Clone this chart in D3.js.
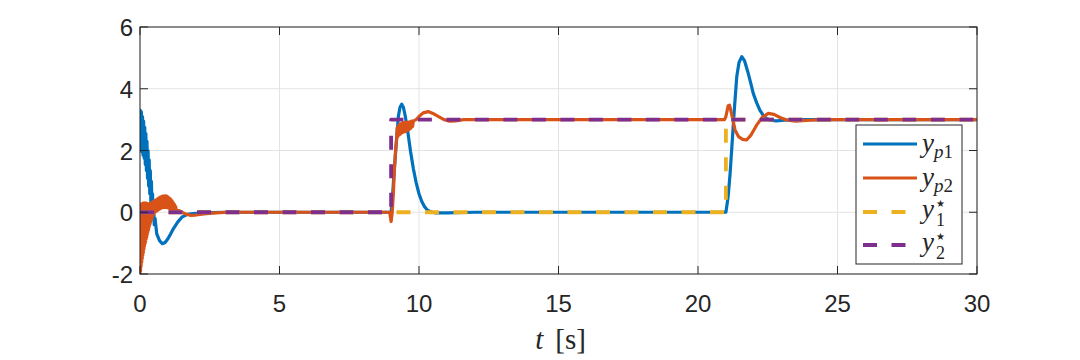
<!DOCTYPE html>
<html>
<head>
<meta charset="utf-8">
<script src="https://cdn.jsdelivr.net/npm/d3@7"></script>
<style>
  body { margin: 0; background: #fff; }
</style>
</head>
<body>
<div id="chart"></div>
<script>
// axis ticks
const xTicks = [0, 5, 10, 15, 20, 25, 30];
const yTicks = [-2, 0, 2, 4, 6];

// y_p1 (measured output 1), [t, value]
const yp1 = [
  [0, 2.0], [0.01, 3.3], [0.03, 2.0], [0.05, 3.25], [0.07, 1.95], [0.09, 3.1],
  [0.11, 1.85], [0.13, 2.95], [0.15, 1.75], [0.17, 2.75], [0.19, 1.55], [0.21, 2.55],
  [0.23, 1.35], [0.25, 2.3], [0.27, 1.1], [0.29, 2.0], [0.31, 0.85], [0.33, 1.7],
  [0.35, 0.6], [0.37, 1.35], [0.39, 0.3], [0.41, 1.0], [0.43, 0.05], [0.45, 0.6],
  [0.47, -0.2], [0.49, 0.25], [0.51, -0.4], [0.54, -0.2],
  [0.6, -0.7], [0.7, -0.92], [0.8, -1.02], [0.9, -0.98], [1.0, -0.86], [1.1, -0.7],
  [1.2, -0.53], [1.35, -0.32], [1.5, -0.16], [1.7, -0.07], [1.9, -0.04], [2.2, -0.03],
  [2.6, -0.01], [3, 0], [9.0, 0],
  [9.05, 0.5], [9.1, 1.2], [9.15, 1.8], [9.2, 2.4], [9.26, 3.1], [9.32, 3.4],
  [9.38, 3.5], [9.44, 3.4], [9.5, 3.15], [9.6, 2.6], [9.7, 1.95], [9.8, 1.4],
  [9.9, 0.95], [10.0, 0.6], [10.1, 0.35], [10.2, 0.18], [10.3, 0.07], [10.45, 0.01],
  [10.6, -0.02], [11, -0.02], [12, 0], [21.0, 0],
  [21.08, 0.5], [21.15, 1.25], [21.22, 2.2], [21.3, 3.3], [21.39, 4.4], [21.47, 4.85],
  [21.57, 5.04], [21.67, 4.9], [21.8, 4.5], [21.9, 4.15], [21.98, 3.85], [22.1, 3.55],
  [22.22, 3.3], [22.34, 3.14], [22.46, 3.04], [22.6, 2.98], [22.8, 2.96], [23.1, 2.98],
  [23.5, 3], [30, 3]
];

// y_p2 (measured output 2), [t, value]
const yp2 = [
  [0, -2.05], [0.01, 0.25], [0.02, -1.9], [0.03, 0.26], [0.04, -1.75], [0.05, 0.27],
  [0.06, -1.62], [0.07, 0.28], [0.08, -1.5], [0.09, 0.29], [0.10, -1.4], [0.11, 0.3],
  [0.12, -1.3], [0.13, 0.3], [0.14, -1.2], [0.15, 0.3], [0.16, -1.1], [0.17, 0.3],
  [0.18, -1.02], [0.19, 0.3], [0.20, -0.95], [0.21, 0.3], [0.22, -0.87], [0.23, 0.3],
  [0.24, -0.8], [0.25, 0.29], [0.26, -0.72], [0.27, 0.28], [0.28, -0.65], [0.29, 0.27],
  [0.30, -0.58], [0.31, 0.27], [0.32, -0.5], [0.33, 0.28], [0.34, -0.44], [0.35, 0.28],
  [0.36, -0.38], [0.37, 0.29], [0.38, -0.32], [0.39, 0.3], [0.40, -0.27], [0.41, 0.31],
  [0.42, -0.22], [0.43, 0.32], [0.44, -0.17], [0.45, 0.33], [0.46, -0.12], [0.47, 0.34],
  [0.48, -0.08], [0.49, 0.35], [0.50, -0.04], [0.52, 0.37], [0.54, 0.0], [0.56, 0.39],
  [0.58, 0.03], [0.6, 0.42], [0.62, 0.05], [0.64, 0.44], [0.66, 0.08], [0.68, 0.47],
  [0.7, 0.1], [0.72, 0.49], [0.74, 0.12], [0.76, 0.5], [0.78, 0.14], [0.8, 0.52],
  [0.82, 0.15], [0.84, 0.52], [0.86, 0.16], [0.88, 0.53], [0.9, 0.16], [0.92, 0.53],
  [0.94, 0.16], [0.96, 0.52], [0.98, 0.15], [1.0, 0.5], [1.02, 0.14], [1.04, 0.47],
  [1.06, 0.12], [1.08, 0.44], [1.1, 0.1], [1.12, 0.4], [1.14, 0.08], [1.16, 0.35],
  [1.18, 0.07], [1.2, 0.3], [1.22, 0.06], [1.24, 0.25], [1.26, 0.05], [1.28, 0.18],
  [1.3, 0.06], [1.4, 0.05], [1.5, 0.0], [1.65, -0.06], [1.8, -0.1], [2.0, -0.09],
  [2.3, -0.05], [2.7, -0.02], [3.2, 0], [8.95, 0],
  [9.0, -0.3], [9.04, 0.0], [9.08, 0.6], [9.12, 1.4], [9.16, 2.0], [9.2, 2.4],
  [9.22, 2.75], [9.24, 2.45], [9.26, 2.8], [9.28, 2.5], [9.3, 2.85], [9.32, 2.52],
  [9.34, 2.86], [9.36, 2.55], [9.38, 2.88], [9.40, 2.58], [9.42, 2.9], [9.44, 2.6],
  [9.46, 2.9], [9.48, 2.6], [9.5, 2.9], [9.53, 2.62], [9.56, 2.92], [9.59, 2.65],
  [9.62, 2.92], [9.65, 2.68], [9.68, 2.93], [9.71, 2.72], [9.74, 2.95], [9.77, 2.78],
  [9.8, 2.96], [9.9, 3.0], [10.0, 3.1], [10.15, 3.22], [10.33, 3.26],
  [10.5, 3.2], [10.7, 3.1], [10.9, 3.0], [11.1, 2.95], [11.3, 2.96], [11.6, 3.0],
  [20.95, 3],
  [21.0, 3.1], [21.08, 3.45], [21.13, 3.47], [21.2, 3.2], [21.33, 2.66], [21.45, 2.45],
  [21.6, 2.36], [21.74, 2.34], [21.9, 2.5], [22.1, 2.82], [22.3, 3.07], [22.52, 3.2],
  [22.72, 3.17], [22.94, 3.07], [23.2, 2.98], [23.5, 2.95], [24, 2.98], [24.5, 3],
  [30, 3]
];

// references y1*, y2*
const y1ref = [[0, 0], [21, 0], [21, 3], [30, 3]];
const y2ref = [[0, 0], [9, 0], [9, 3], [30, 3]];

const width = 1080, height = 360;
const margin = { left: 140, right: 103, top: 27, bottom: 86 };
const ink = '#262626';
const serif = '"Liberation Serif", "DejaVu Serif", serif';
const sans = '"Liberation Sans", Arial, Helvetica, sans-serif';

const x = d3.scaleLinear().domain([0, 30]).range([margin.left, width - margin.right]);
const y = d3.scaleLinear().domain([-2, 6]).range([height - margin.bottom, margin.top]);

const svg = d3.select('#chart')
  .append('svg')
  .attr('width', width)
  .attr('height', height);

svg.append('defs').append('clipPath')
  .attr('id', 'clip')
  .append('rect')
  .attr('x', x(0)).attr('y', y(6))
  .attr('width', x(30) - x(0)).attr('height', y(-2) - y(6));

// grid
svg.append('g')
  .selectAll('line')
  .data(xTicks)
  .enter().append('line')
  .attr('x1', d => x(d)).attr('x2', d => x(d))
  .attr('y1', y(6)).attr('y2', y(-2))
  .attr('stroke', '#e3e3e3').attr('stroke-width', 1);

svg.append('g')
  .selectAll('line')
  .data(yTicks)
  .enter().append('line')
  .attr('x1', x(0)).attr('x2', x(30))
  .attr('y1', d => y(d)).attr('y2', d => y(d))
  .attr('stroke', '#e3e3e3').attr('stroke-width', 1);

// lines
const line = d3.line().x(d => x(d[0])).y(d => y(d[1]));
const plot = svg.append('g').attr('clip-path', 'url(#clip)');

const series = [
  { data: yp1, color: '#0072BD', dash: null, w: 3.2 },
  { data: yp2, color: '#D95319', dash: null, w: 3.2 },
  { data: y1ref, color: '#EDB120', dash: '14,14.5', w: 3.8 },
  { data: y2ref, color: '#7E2F8E', dash: '14,14.5', w: 3.8 }
];

series.forEach(s => {
  plot.append('path')
    .datum(s.data)
    .attr('d', line)
    .attr('fill', 'none')
    .attr('stroke', s.color)
    .attr('stroke-width', s.w)
    .attr('stroke-linejoin', 'round')
    .attr('stroke-dasharray', s.dash);
});

// axes (MATLAB style, ticks inside, box on)
const tickLen = 8;
const axisG = svg.append('g').attr('stroke', ink).attr('stroke-width', 1).attr('fill', 'none');
axisG.append('rect')
  .attr('x', x(0)).attr('y', y(6))
  .attr('width', x(30) - x(0)).attr('height', y(-2) - y(6));

xTicks.forEach(t => {
  axisG.append('line').attr('x1', x(t)).attr('x2', x(t)).attr('y1', y(-2)).attr('y2', y(-2) - tickLen);
  axisG.append('line').attr('x1', x(t)).attr('x2', x(t)).attr('y1', y(6)).attr('y2', y(6) + tickLen);
});
yTicks.forEach(t => {
  axisG.append('line').attr('x1', x(0)).attr('x2', x(0) + tickLen).attr('y1', y(t)).attr('y2', y(t));
  axisG.append('line').attr('x1', x(30)).attr('x2', x(30) - tickLen).attr('y1', y(t)).attr('y2', y(t));
});

svg.append('g')
  .selectAll('text')
  .data(xTicks)
  .enter().append('text')
  .attr('x', d => x(d))
  .attr('y', y(-2) + 38)
  .attr('text-anchor', 'middle')
  .style('font-family', sans)
  .style('font-size', '24px')
  .attr('fill', ink)
  .text(d => d);

svg.append('g')
  .selectAll('text')
  .data(yTicks)
  .enter().append('text')
  .attr('x', x(0) - 7)
  .attr('y', d => y(d) + 9)
  .attr('text-anchor', 'end')
  .style('font-family', sans)
  .style('font-size', '24px')
  .attr('fill', ink)
  .text(d => d);

// x label
const xl = svg.append('text')
  .attr('x', (x(0) + x(30)) / 2 + 2)
  .attr('y', 349)
  .attr('text-anchor', 'middle')
  .style('font-family', serif)
  .style('font-size', '29px')
  .attr('fill', ink);
xl.append('tspan').style('font-style', 'italic').text('t');
xl.append('tspan').attr('dx', 12).text('[s]');

// legend
const legendItems = [
  { color: '#0072BD', dash: null, sup: null, sub: 'p1' },
  { color: '#D95319', dash: null, sup: null, sub: 'p2' },
  { color: '#EDB120', dash: '14,14.5', sup: '\u2605', sub: '1' },
  { color: '#7E2F8E', dash: '14,14.5', sup: '\u2605', sub: '2' }
];
const legendRows = [144, 178, 212, 245];

const lg = svg.append('g');
lg.append('rect')
  .attr('x', 856).attr('y', 125)
  .attr('width', 106).attr('height', 139)
  .attr('fill', '#fff')
  .attr('stroke', ink)
  .attr('stroke-width', 1);

legendItems.forEach((d, i) => {
  const ry = legendRows[i];
  lg.append('line')
    .attr('x1', 863).attr('x2', 917)
    .attr('y1', ry).attr('y2', ry)
    .attr('stroke', d.color)
    .attr('stroke-width', d.dash ? 3.8 : 3.2)
    .attr('stroke-dasharray', d.dash);

  if (d.sup) {
    lg.append('text')
      .attr('x', 922)
      .attr('y', ry + 6)
      .style('font-family', serif)
      .style('font-size', '27px')
      .style('font-style', 'italic')
      .attr('fill', ink)
      .text('y');
    lg.append('text')
      .attr('x', 936)
      .attr('y', ry - 5)
      .style('font-family', '"DejaVu Sans", sans-serif')
      .style('font-size', '10px')
      .attr('fill', ink)
      .text(d.sup);
    lg.append('text')
      .attr('x', 936)
      .attr('y', ry + 14)
      .style('font-family', serif)
      .style('font-size', '18px')
      .attr('fill', ink)
      .text(d.sub);
  } else {
    const t = lg.append('text')
      .attr('x', 922)
      .attr('y', ry + 8)
      .style('font-family', serif)
      .style('font-size', '27px')
      .attr('fill', ink);
    t.append('tspan').style('font-style', 'italic').text('y');
    const sub = t.append('tspan').style('font-size', '19px').attr('dy', 6);
    sub.append('tspan').style('font-style', 'italic').text(d.sub[0]);
    sub.append('tspan').text(d.sub[1]);
  }
});
</script>
</body>
</html>
